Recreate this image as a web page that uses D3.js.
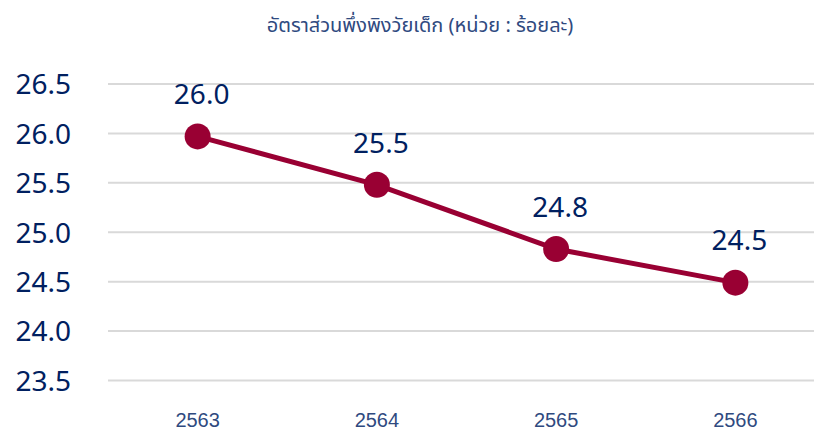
<!DOCTYPE html>
<html lang="th">
<head>
<meta charset="UTF-8">
<script src="https://d3js.org/d3.v7.min.js"></script>
<title>อัตราส่วนพึ่งพิงวัยเด็ก</title>
<style>
  body { margin: 0; background: #fff; }
  svg { display: block; }
</style>
</head>
<body>
<svg width="814" height="432"></svg>
<script>
const years = ["2563", "2564", "2565", "2566"]
const values = [25.97, 25.48, 24.83, 24.49]
const labels = ["26.0", "25.5", "24.8", "24.5"]
const yTicks = [23.5, 24.0, 24.5, 25.0, 25.5, 26.0, 26.5]
const title = "อัตราส่วนพึ่งพิงวัยเด็ก (หน่วย : ร้อยละ)"

const svg = d3.select("svg")
const navy = "#002060"
const red = "#990033"

const x = d3.scaleBand().domain(years).range([108, 825]).padding(0)
const cx = d => x(d) + x.bandwidth() / 2
const y = d3.scaleLinear().domain([23.5, 26.5]).range([380.5, 84])

// title
svg.append("text")
  .attr("x", 420).attr("y", 26)
  .attr("text-anchor", "middle").attr("dominant-baseline", "middle")
  .style("font-family", "Tahoma, 'Noto Sans Thai', 'DejaVu Sans', sans-serif")
  .style("font-size", "20px").style("fill", "#2f4a7f")
  .text(title)

// grid
svg.append("g").selectAll("line").data(yTicks).enter().append("line")
  .attr("x1", 108).attr("x2", 814)
  .attr("y1", d => y(d)).attr("y2", d => y(d))
  .attr("stroke", "#d9d9d9").attr("stroke-width", 2)

// y axis labels
const yAxis = d3.axisLeft(y).tickValues(yTicks).tickFormat(d3.format(".1f")).tickSize(0).tickPadding(0)
const gy = svg.append("g").attr("transform", "translate(71,0)").call(yAxis)
gy.select(".domain").remove()
gy.selectAll("text")
  .style("font-family", "'Noto Sans', sans-serif").style("font-size", "28px")
  .style("fill", navy).attr("dy", "0.35em")

// x axis labels
const xAxis = d3.axisBottom(x).tickSize(0).tickPadding(0)
const gx = svg.append("g").attr("transform", "translate(0,420)").call(xAxis)
gx.select(".domain").remove()
gx.selectAll("text")
  .attr("dy", "0.35em").attr("y", 0)
  .style("font-family", "'Liberation Sans', Arial, sans-serif").style("font-size", "20px")
  .style("fill", "#2f4a7f")

// line
const line = d3.line().x((d, i) => cx(years[i])).y(d => y(d))
svg.append("path").datum(values)
  .attr("d", line).attr("fill", "none")
  .attr("stroke", red).attr("stroke-width", 5)

svg.append("g").selectAll("circle").data(values).enter().append("circle")
  .attr("cx", (d, i) => cx(years[i])).attr("cy", d => y(d)).attr("r", 13)
  .attr("fill", red)

// data labels
svg.append("g").selectAll("text").data(values).enter().append("text")
  .attr("x", (d, i) => cx(years[i]) + 4).attr("y", d => y(d) - 42)
  .attr("text-anchor", "middle").attr("dy", "0.35em")
  .style("font-family", "'Noto Sans', sans-serif").style("font-size", "28px")
  .style("fill", navy)
  .text((d, i) => labels[i])
</script>
</body>
</html>
